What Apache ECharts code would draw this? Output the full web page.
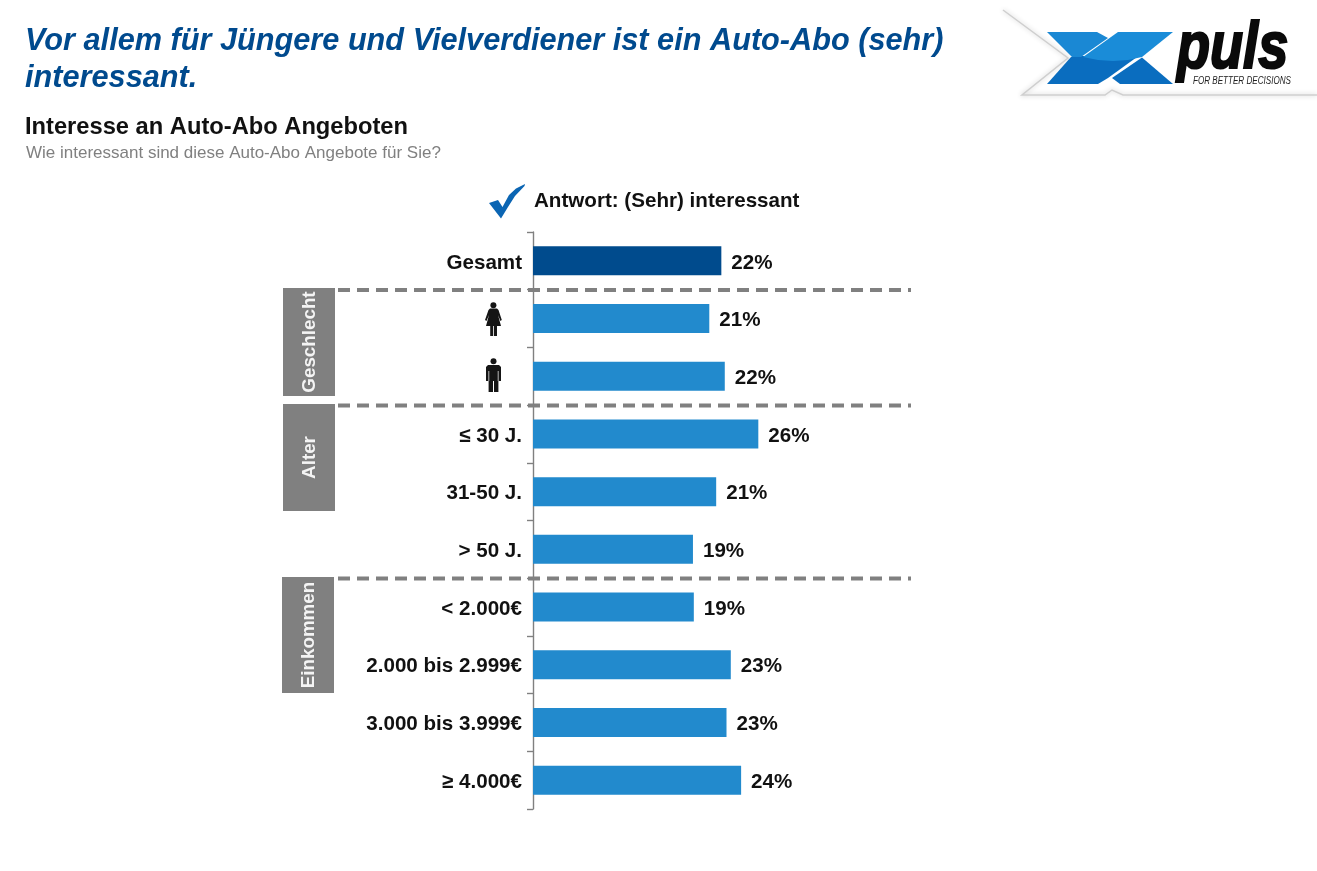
<!DOCTYPE html>
<html><head><meta charset="utf-8">
<style>html,body{margin:0;padding:0;background:#fff}#c{width:1317px;height:871px}</style>
<script src="https://cdn.jsdelivr.net/npm/echarts@6/dist/echarts.min.js"></script>
</head><body><div id="c"></div>
<script>
const categories = ['Gesamt','Weiblich','Männlich','≤ 30 J.','31-50 J.','> 50 J.','< 2.000€','2.000 bis 2.999€','3.000 bis 3.999€','≥ 4.000€'];
const values = [21.9,20.5,22.3,26.2,21.3,18.6,18.7,23.0,22.5,24.2];
const shownLabels = ['22%','21%','22%','26%','21%','19%','19%','23%','23%','24%'];
const iconCategories = ['Weiblich','Männlich'];
const F = '"Liberation Sans", Arial, sans-serif';
const BLUE = '#228acd', DARK = '#004b8d', GRAY = '#808080';

const chart = echarts.init(document.getElementById('c'), null, {renderer:'canvas'});

function band(x, y, w, h, label, cx, cy) {
  return [
    {type:'rect', shape:{x, y, width:w, height:h}, style:{fill:GRAY}, z:5},
    {type:'text', x:cx, y:cy, rotation:Math.PI/2, style:{text:label, fill:'#f4f4f4', font:'bold 18.8px '+F, align:'center', verticalAlign:'middle'}, z:6}
  ];
}
function dash(y) {
  return {type:'line', shape:{x1:338, y1:y, x2:911, y2:y}, style:{stroke:GRAY, lineWidth:4, lineDash:[12,7]}, z:4};
}
const ink = '#151515';
const woman = [
  {type:'circle', shape:{cx:493.4, cy:305.3, r:3}, style:{fill:ink}, z:5},
  {type:'polygon', shape:{points:[[490,308.6],[497,308.6],[498.5,310],[501.8,320],[500.4,321],[498,315],[501,326],[486,326],[489,315],[486.5,321],[485,320],[488.5,310]]}, style:{fill:ink}, z:5},
  {type:'rect', shape:{x:490.2, y:326, width:3, height:10}, style:{fill:ink}, z:5},
  {type:'rect', shape:{x:494, y:326, width:3, height:10}, style:{fill:ink}, z:5}
];
const man = [
  {type:'circle', shape:{cx:493.5, cy:361.3, r:3}, style:{fill:ink}, z:5},
  {type:'polygon', shape:{points:[[488,365],[499,365],[501,367],[501,381],[498.4,381],[498.4,392],[494,392],[494,381],[493,381],[493,392],[488.6,392],[488.6,381],[486,381],[486,367]]}, style:{fill:ink}, z:5},
  {type:'line', shape:{x1:488.8,y1:371,x2:488.8,y2:381}, style:{stroke:'#fff',lineWidth:.7}, z:6},
  {type:'line', shape:{x1:498.2,y1:371,x2:498.2,y2:381}, style:{stroke:'#fff',lineWidth:.7}, z:6}
];
const check = {type:'polygon', shape:{points:[[489,203],[498,200],[502.5,207],[509,195],[516,188.5],[525,184],[524.5,186],[515,196],[508,207],[501,218.5]]}, style:{fill:'#0b65b3'}, z:5};
const logo = [
  {type:'polyline', shape:{points:[[1003,10],[1068,58],[1022,95],[1105,95],[1112,90],[1123,95],[1317,95]]}, style:{stroke:'#cfcfcf', lineWidth:1.5, fill:null, shadowBlur:5, shadowColor:'#c4c4c4'}, z:1},
  {type:'polygon', shape:{points:[[1071,57],[1082,56],[1113,56],[1137,57],[1108,78],[1098,84],[1047,84]]}, style:{fill:'#0a6dbf'}, z:2},
  {type:'polygon', shape:{points:[[1047,32],[1097,32],[1108,38],[1081,57],[1072,57]]}, style:{fill:'#1a88d4'}, z:3},
  {type:'polygon', shape:{points:[[1118,32],[1173,32],[1142,57],[1128,60],[1113,61],[1098,60],[1083,57]]}, style:{fill:'#1a8cd8'}, z:3},
  {type:'polygon', shape:{points:[[1142,57.5],[1173,84],[1120,84],[1112,78]]}, style:{fill:'#0a6dbf'}, z:2},
  {type:'text', x:1177, y:83, scaleX:.82, style:{text:'puls', fill:'#0a0a0a', stroke:'#0a0a0a', lineWidth:2.2, font:'italic bold 66px '+F, align:'left', verticalAlign:'bottom'}, z:3},
  {type:'text', x:1193, y:81, scaleX:.77, style:{text:'FOR BETTER DECISIONS', fill:'#222', font:'italic 10.5px '+F, align:'left', verticalAlign:'middle'}, z:4}
];

chart.setOption({
  animation:false,
  backgroundColor:'#fff',
  title:[
    {text:'Vor allem für Jüngere und Vielverdiener ist ein Auto-Abo (sehr)\ninteressant.', left:25, top:23,
     textStyle:{color:'#004a8e', fontFamily:F, fontSize:30.7, fontWeight:'bold', fontStyle:'italic', lineHeight:37}, padding:0},
    {text:'Interesse an Auto-Abo Angeboten', left:25, top:115, padding:0,
     textStyle:{color:'#111', fontFamily:F, fontSize:23.7, fontWeight:'bold'}},
    {text:'Wie interessant sind diese Auto-Abo Angebote für Sie?', left:26, top:145, padding:0,
     textStyle:{color:'#808080', fontFamily:F, fontSize:17, fontWeight:'normal'}},
    {text:'Antwort: (Sehr) interessant', left:534, top:191, padding:0,
     textStyle:{color:'#111', fontFamily:F, fontSize:20.6, fontWeight:'bold'}}
  ],
  grid:{left:533, top:232, width:430, height:577, containLabel:false},
  xAxis:{type:'value', min:0, max:50, show:false},
  yAxis:{type:'category', inverse:true, data:categories,
    axisLine:{show:true, lineStyle:{color:GRAY, width:1.4}},
    axisTick:{show:true, length:6, lineStyle:{color:GRAY, width:1.4}},
    axisLabel:{margin:11, color:'#111', fontFamily:F, fontSize:20.6, fontWeight:'bold',
      rich:{a:{color:'#111', fontFamily:F, fontSize:20.6, fontWeight:'bold', padding:[4,0,0,0]}},
      formatter:v=> iconCategories.includes(v) ? '' : '{a|'+v+'}'},
    splitLine:{show:false}},
  series:[{type:'bar', barWidth:29, z:2,
    data:values.map((v,i)=>({value:v, itemStyle:{color:i===0?DARK:BLUE}})),
    label:{show:true, position:'right', distance:10, offset:[0,2], color:'#111', fontFamily:F, fontSize:20.6, fontWeight:'bold',
      formatter:p=>shownLabels[p.dataIndex]}}],
  graphic:[
    ...band(283,288,52,108,'Geschlecht',310,342),
    ...band(283,404,52,107,'Alter',310,457.5),
    ...band(282,577,52,116,'Einkommen',309,635),
    dash(290), dash(405.5), dash(578.5),
    check, ...woman, ...man, ...logo
  ]
});
</script></body></html>
